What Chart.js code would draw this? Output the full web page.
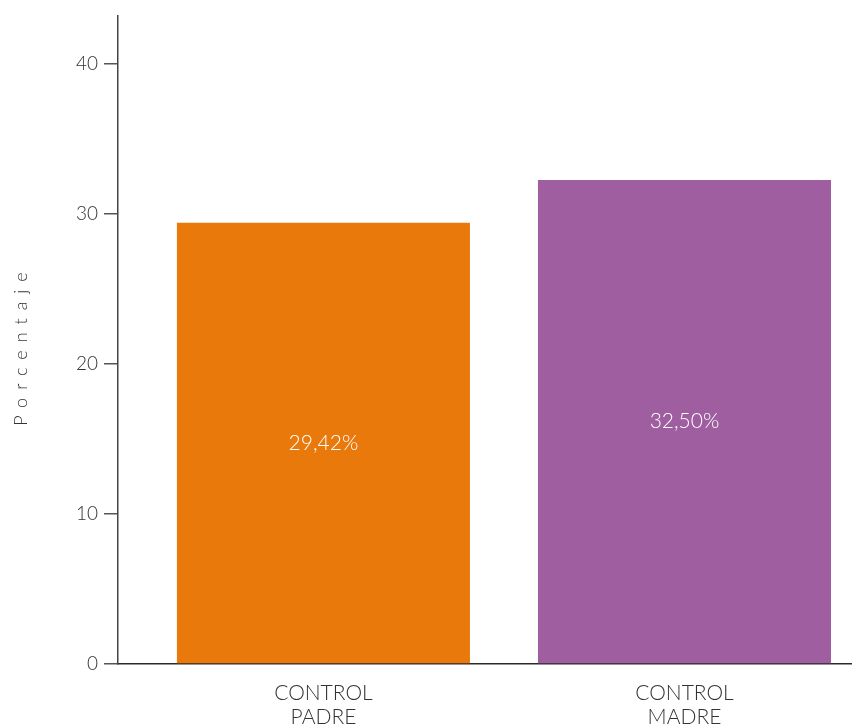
<!DOCTYPE html>
<html>
<head>
<meta charset="utf-8">
<script src="https://cdn.jsdelivr.net/npm/chart.js@4/dist/chart.umd.min.js"></script>
<style>
  html, body { margin: 0; padding: 0; background: #fff; }
  #wrap { width: 852px; height: 725px; position: relative; }
</style>
</head>
<body>
<div id="wrap"><canvas id="myChart"></canvas></div>
<script>
// data
const categories = [['CONTROL', 'PADRE'], ['CONTROL', 'MADRE']];
const values = [29.42, 32.27];
const valueLabels = ['29,42%', '32,50%'];
const barColors = ['#E8790A', '#9E5E9F'];
const yTitle = 'Porcentaje';

const fontFamily = "Lato, 'Open Sans', sans-serif";

// white value text in the middle of each bar
const barLabels = {
    id: 'barLabels',
    afterDatasetsDraw(chart) {
        const ctx = chart.ctx;
        const meta = chart.getDatasetMeta(0);
        ctx.save();
        ctx.fillStyle = '#fff';
        ctx.font = '300 21px ' + fontFamily;
        ctx.textAlign = 'center';
        ctx.textBaseline = 'middle';
        meta.data.forEach((bar, i) => {
            ctx.fillText(valueLabels[i], bar.x, (bar.y + bar.base) / 2);
        });
        ctx.restore();
    }
};

// spaced-out vertical axis title
const spacedTitle = {
    id: 'spacedTitle',
    afterDraw(chart) {
        const ctx = chart.ctx;
        ctx.save();
        ctx.translate(21, 349);
        ctx.rotate(-Math.PI / 2);
        ctx.fillStyle = '#333';
        ctx.font = '300 18px ' + fontFamily;
        ctx.letterSpacing = '8px';
        ctx.textAlign = 'center';
        ctx.textBaseline = 'middle';
        ctx.fillText(yTitle, 4, 0);
        ctx.restore();
    }
};

var ctx = document.getElementById('myChart');

var myChart = new Chart(ctx, {
    type: 'bar',
    data: {
        datasets: [{
            data: values.map((v, i) => ({ x: i, y: v })),
            backgroundColor: barColors,
            borderWidth: 0,
            barPercentage: 0.8116,
            categoryPercentage: 1
        }]
    },
    options: {
        responsive: true,
        maintainAspectRatio: false,
        animation: false,
        layout: { padding: { top: 16, right: 0, left: 0, bottom: 0 } },
        plugins: {
            legend: { display: false },
            tooltip: { enabled: false }
        },
        scales: {
            x: {
                type: 'linear',
                offset: false,
                min: -0.569,
                max: 1.464,
                grid: { display: false, drawTicks: false },
                border: { display: true, color: '#2a2a2a', width: 1.5 },
                afterBuildTicks: (scale) => {
                    scale.ticks = categories.map((c, i) => ({ value: i }));
                },
                ticks: {
                    autoSkip: false,
                    maxRotation: 0,
                    color: '#333',
                    font: { family: fontFamily, size: 21, weight: '300', lineHeight: 1.15 },
                    padding: 17,
                    callback: (value) => categories[value]
                },
                afterFit: (scale) => { scale.height = 61; scale.paddingLeft = 0; scale.paddingRight = 0; }
            },
            y: {
                min: 0,
                max: 43.2,
                grid: { drawOnChartArea: false, drawTicks: true, tickLength: 14, color: '#555', lineWidth: 1.5 },
                border: { display: true, color: '#444', width: 1.5 },
                ticks: {
                    stepSize: 10,
                    includeBounds: false,
                    color: '#333',
                    font: { family: fontFamily, size: 19, weight: '300' },
                    padding: 6
                },
                afterFit: (scale) => { scale.width = 118; scale.paddingTop = 0; scale.paddingBottom = 0; }
            }
        }
    },
    plugins: [barLabels, spacedTitle]
});
</script>
</body>
</html>
